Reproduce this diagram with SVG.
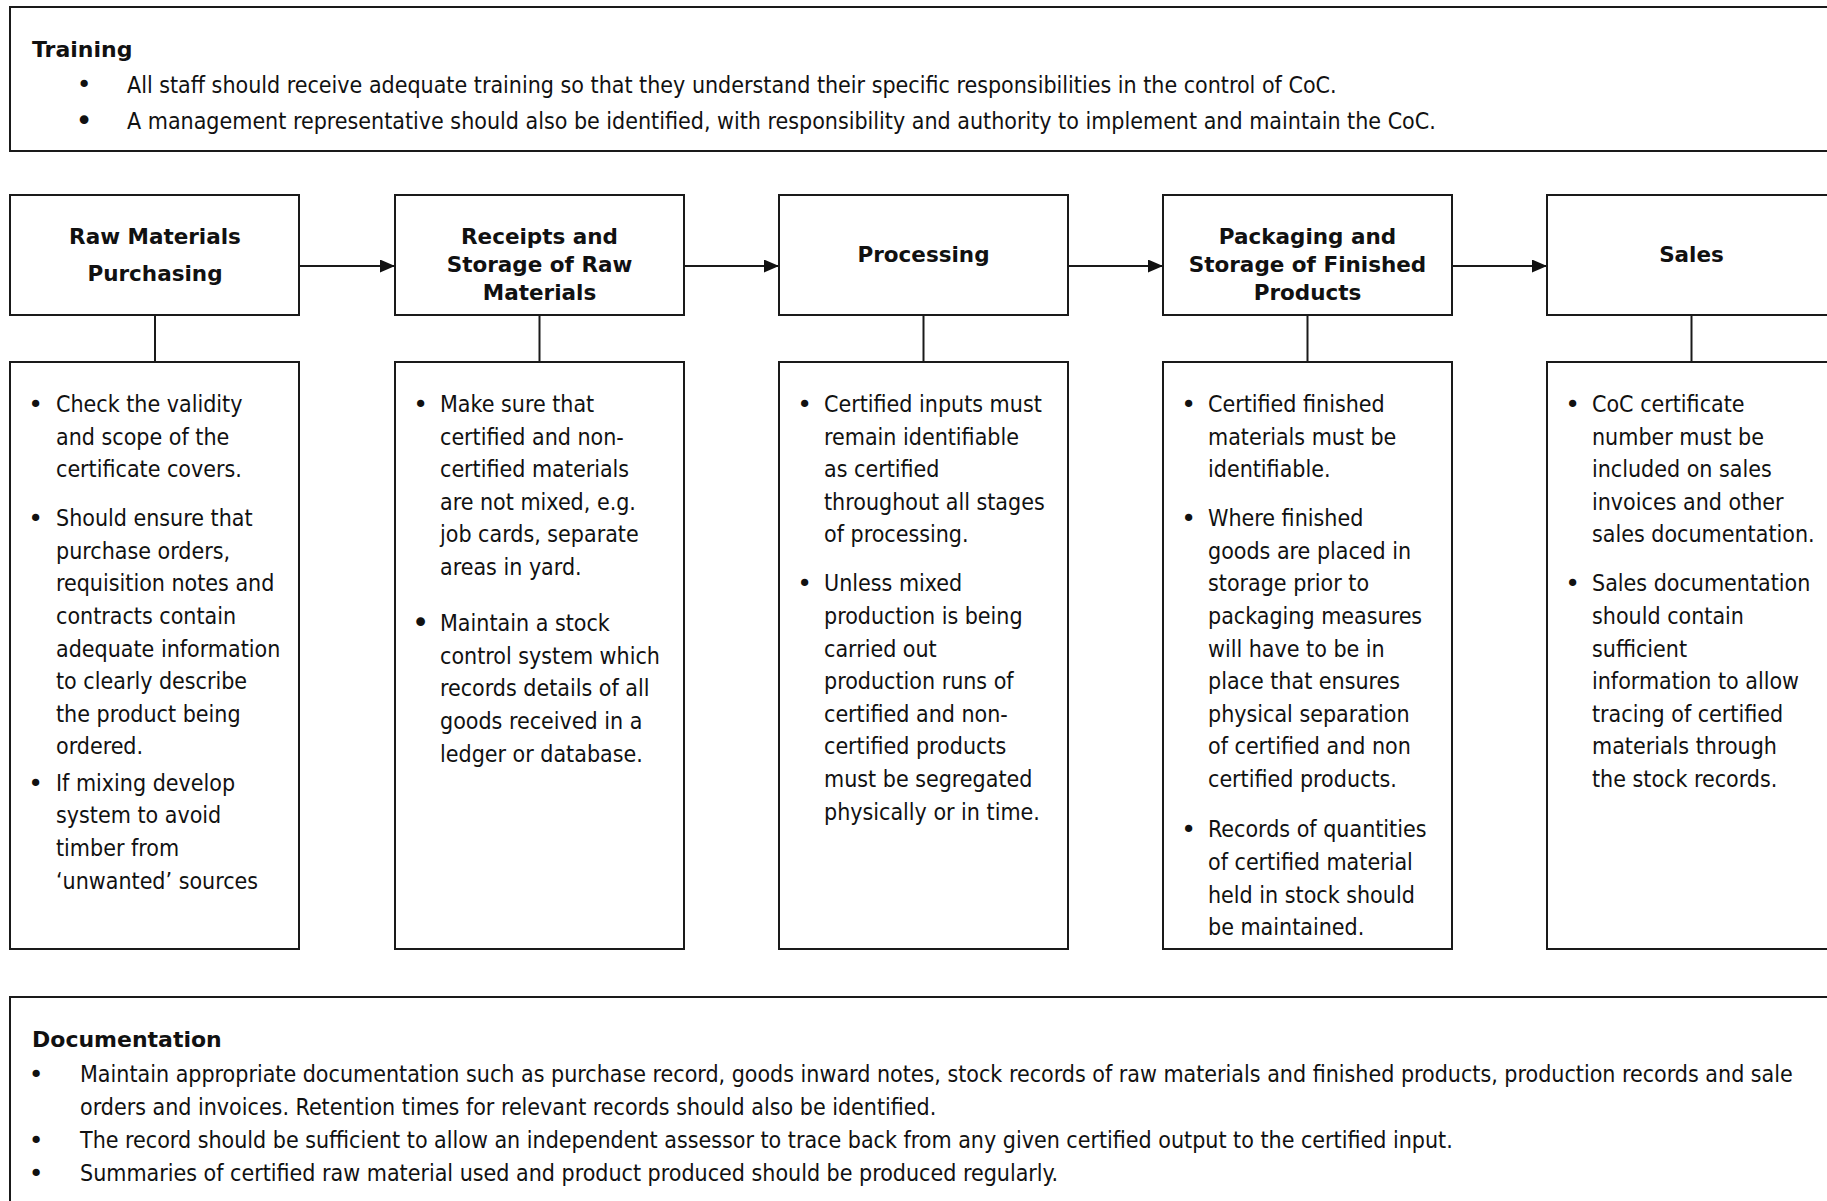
<svg xmlns="http://www.w3.org/2000/svg" width="1827" height="1201" viewBox="0 0 1827 1201">
<style>
  .box { fill: #ffffff; stroke: #1a1a1a; stroke-width: 2; }
  .ln { stroke: #1a1a1a; stroke-width: 2; fill: none; }
  .ttl { font-family: "DejaVu Sans", "Liberation Sans", sans-serif; font-weight: bold; font-size: 22px; fill: #111; }
  .hd { font-family: "DejaVu Sans", "Liberation Sans", sans-serif; font-weight: bold; font-size: 21.5px; fill: #111; text-anchor: middle; }
  .tx { font-family: "DejaVu Sans Condensed", "DejaVu Sans", sans-serif; font-stretch: condensed; font-size: 23px; fill: #111; }
  .bl { font-family: "DejaVu Sans", sans-serif; font-size: 25px; fill: #111; text-anchor: middle; }
  .blb { font-family: "DejaVu Sans", sans-serif; font-size: 30px; fill: #111; text-anchor: middle; }
</style>
<defs>
  <marker id="arr" markerWidth="15" markerHeight="13" refX="15" refY="6.5" orient="auto" markerUnits="userSpaceOnUse">
    <path d="M0,0 L15,6.5 L0,13 Z" fill="#111"/>
  </marker>
</defs>
<rect x="0" y="0" width="1827" height="1201" fill="#ffffff"/>

<g id="training">
  <rect class="box" x="10" y="7" width="1840" height="144"/>
  <text class="ttl" x="32" y="56.5">Training</text>
  <text class="bl" x="84" y="93">•</text>
  <text class="tx" x="127" y="92.5">All staff should receive adequate training so that they understand their specific responsibilities in the control of CoC.</text>
  <text class="blb" x="84" y="131">•</text>
  <text class="tx" x="127" y="128.5">A management representative should also be identified, with responsibility and authority to implement and maintain the CoC.</text>
</g>

<g id="connectors">
  <line class="ln" x1="299" y1="266" x2="395" y2="266" marker-end="url(#arr)"/>
  <line class="ln" x1="684" y1="266" x2="779" y2="266" marker-end="url(#arr)"/>
  <line class="ln" x1="1068" y1="266" x2="1163" y2="266" marker-end="url(#arr)"/>
  <line class="ln" x1="1452" y1="266" x2="1547" y2="266" marker-end="url(#arr)"/>
  <line class="ln" x1="155" y1="315" x2="155" y2="362"/>
  <line class="ln" x1="539.5" y1="315" x2="539.5" y2="362"/>
  <line class="ln" x1="923.5" y1="315" x2="923.5" y2="362"/>
  <line class="ln" x1="1307.5" y1="315" x2="1307.5" y2="362"/>
  <line class="ln" x1="1691.5" y1="315" x2="1691.5" y2="362"/>
</g>

<g id="raw-materials-purchasing">
  <rect class="box" x="10" y="195" width="289" height="120"/>
  <text class="hd" x="155" y="244">Raw Materials</text>
  <text class="hd" x="155" y="280.7">Purchasing</text>
</g>
<g id="receipts-storage">
  <rect class="box" x="395" y="195" width="289" height="120"/>
  <text class="hd" x="539.5" y="244">Receipts and</text>
  <text class="hd" x="539.5" y="272">Storage of Raw</text>
  <text class="hd" x="539.5" y="300">Materials</text>
</g>
<g id="processing">
  <rect class="box" x="779" y="195" width="289" height="120"/>
  <text class="hd" x="923.5" y="261.5">Processing</text>
</g>
<g id="packaging-storage">
  <rect class="box" x="1163" y="195" width="289" height="120"/>
  <text class="hd" x="1307.5" y="244">Packaging and</text>
  <text class="hd" x="1307.5" y="272">Storage of Finished</text>
  <text class="hd" x="1307.5" y="300">Products</text>
</g>
<g id="sales">
  <rect class="box" x="1547" y="195" width="289" height="120"/>
  <text class="hd" x="1691.5" y="262">Sales</text>
</g>

<g id="details-raw-materials">
  <rect class="box" x="10" y="362" width="289" height="587"/>
  <text class="bl" x="35.5" y="413">•</text>
  <text class="tx"><tspan x="56" y="412">Check the validity</tspan><tspan x="56" y="444.6">and scope of the</tspan><tspan x="56" y="477.2">certificate covers.</tspan></text>
  <text class="bl" x="35.5" y="527.2">•</text>
  <text class="tx"><tspan x="56" y="526.2">Should ensure that</tspan><tspan x="56" y="558.8">purchase orders,</tspan><tspan x="56" y="591.4">requisition notes and</tspan><tspan x="56" y="624">contracts contain</tspan><tspan x="56" y="656.6">adequate information</tspan><tspan x="56" y="689.2">to clearly describe</tspan><tspan x="56" y="721.8">the product being</tspan><tspan x="56" y="754.4">ordered.</tspan></text>
  <text class="bl" x="35.5" y="791.7">•</text>
  <text class="tx"><tspan x="56" y="790.7">If mixing develop</tspan><tspan x="56" y="823.3">system to avoid</tspan><tspan x="56" y="855.9">timber from</tspan><tspan x="56" y="888.5">‘unwanted’ sources</tspan></text>
</g>

<g id="details-receipts">
  <rect class="box" x="395" y="362" width="289" height="587"/>
  <text class="bl" x="420.5" y="413">•</text>
  <text class="tx"><tspan x="440" y="412">Make sure that</tspan><tspan x="440" y="444.6">certified and non-</tspan><tspan x="440" y="477.2">certified materials</tspan><tspan x="440" y="509.8">are not mixed, e.g.</tspan><tspan x="440" y="542.4">job cards, separate</tspan><tspan x="440" y="575">areas in yard.</tspan></text>
  <text class="blb" x="420.5" y="633">•</text>
  <text class="tx"><tspan x="440" y="631.1">Maintain a stock</tspan><tspan x="440" y="663.7">control system which</tspan><tspan x="440" y="696.3">records details of all</tspan><tspan x="440" y="728.9">goods received in a</tspan><tspan x="440" y="761.5">ledger or database.</tspan></text>
</g>

<g id="details-processing">
  <rect class="box" x="779" y="362" width="289" height="587"/>
  <text class="bl" x="804.5" y="413">•</text>
  <text class="tx"><tspan x="824" y="412">Certified inputs must</tspan><tspan x="824" y="444.6">remain identifiable</tspan><tspan x="824" y="477.2">as certified</tspan><tspan x="824" y="509.8">throughout all stages</tspan><tspan x="824" y="542.4">of processing.</tspan></text>
  <text class="bl" x="804.5" y="592.4">•</text>
  <text class="tx"><tspan x="824" y="591.4">Unless mixed</tspan><tspan x="824" y="624">production is being</tspan><tspan x="824" y="656.6">carried out</tspan><tspan x="824" y="689.2">production runs of</tspan><tspan x="824" y="721.8">certified and non-</tspan><tspan x="824" y="754.4">certified products</tspan><tspan x="824" y="787">must be segregated</tspan><tspan x="824" y="819.6">physically or in time.</tspan></text>
</g>

<g id="details-packaging">
  <rect class="box" x="1163" y="362" width="289" height="587"/>
  <text class="bl" x="1188.5" y="413">•</text>
  <text class="tx"><tspan x="1208" y="412">Certified finished</tspan><tspan x="1208" y="444.6">materials must be</tspan><tspan x="1208" y="477.2">identifiable.</tspan></text>
  <text class="bl" x="1188.5" y="527.2">•</text>
  <text class="tx"><tspan x="1208" y="526.2">Where finished</tspan><tspan x="1208" y="558.8">goods are placed in</tspan><tspan x="1208" y="591.4">storage prior to</tspan><tspan x="1208" y="624">packaging measures</tspan><tspan x="1208" y="656.6">will have to be in</tspan><tspan x="1208" y="689.2">place that ensures</tspan><tspan x="1208" y="721.8">physical separation</tspan><tspan x="1208" y="754.4">of certified and non</tspan><tspan x="1208" y="787">certified products.</tspan></text>
  <text class="bl" x="1188.5" y="838.3">•</text>
  <text class="tx"><tspan x="1208" y="837.3">Records of quantities</tspan><tspan x="1208" y="869.9">of certified material</tspan><tspan x="1208" y="902.5">held in stock should</tspan><tspan x="1208" y="935.1">be maintained.</tspan></text>
</g>

<g id="details-sales">
  <rect class="box" x="1547" y="362" width="289" height="587"/>
  <text class="bl" x="1572.5" y="413">•</text>
  <text class="tx"><tspan x="1592" y="412">CoC certificate</tspan><tspan x="1592" y="444.6">number must be</tspan><tspan x="1592" y="477.2">included on sales</tspan><tspan x="1592" y="509.8">invoices and other</tspan><tspan x="1592" y="542.4">sales documentation.</tspan></text>
  <text class="bl" x="1572.5" y="592.4">•</text>
  <text class="tx"><tspan x="1592" y="591.4">Sales documentation</tspan><tspan x="1592" y="624">should contain</tspan><tspan x="1592" y="656.6">sufficient</tspan><tspan x="1592" y="689.2">information to allow</tspan><tspan x="1592" y="721.8">tracing of certified</tspan><tspan x="1592" y="754.4">materials through</tspan><tspan x="1592" y="787">the stock records.</tspan></text>
</g>

<g id="documentation">
  <rect class="box" x="10" y="997" width="1840" height="240"/>
  <text class="ttl" x="32" y="1047">Documentation</text>
  <text class="bl" x="36" y="1083">•</text>
  <text class="tx"><tspan x="80" y="1082">Maintain appropriate documentation such as purchase record, goods inward notes, stock records of raw materials and finished products, production records and sale</tspan><tspan x="80" y="1115">orders and invoices. Retention times for relevant records should also be identified.</tspan></text>
  <text class="bl" x="36" y="1149">•</text>
  <text class="tx" x="80" y="1148">The record should be sufficient to allow an independent assessor to trace back from any given certified output to the certified input.</text>
  <text class="bl" x="36" y="1182">•</text>
  <text class="tx" x="80" y="1181">Summaries of certified raw material used and product produced should be produced regularly.</text>
</g>
</svg>
